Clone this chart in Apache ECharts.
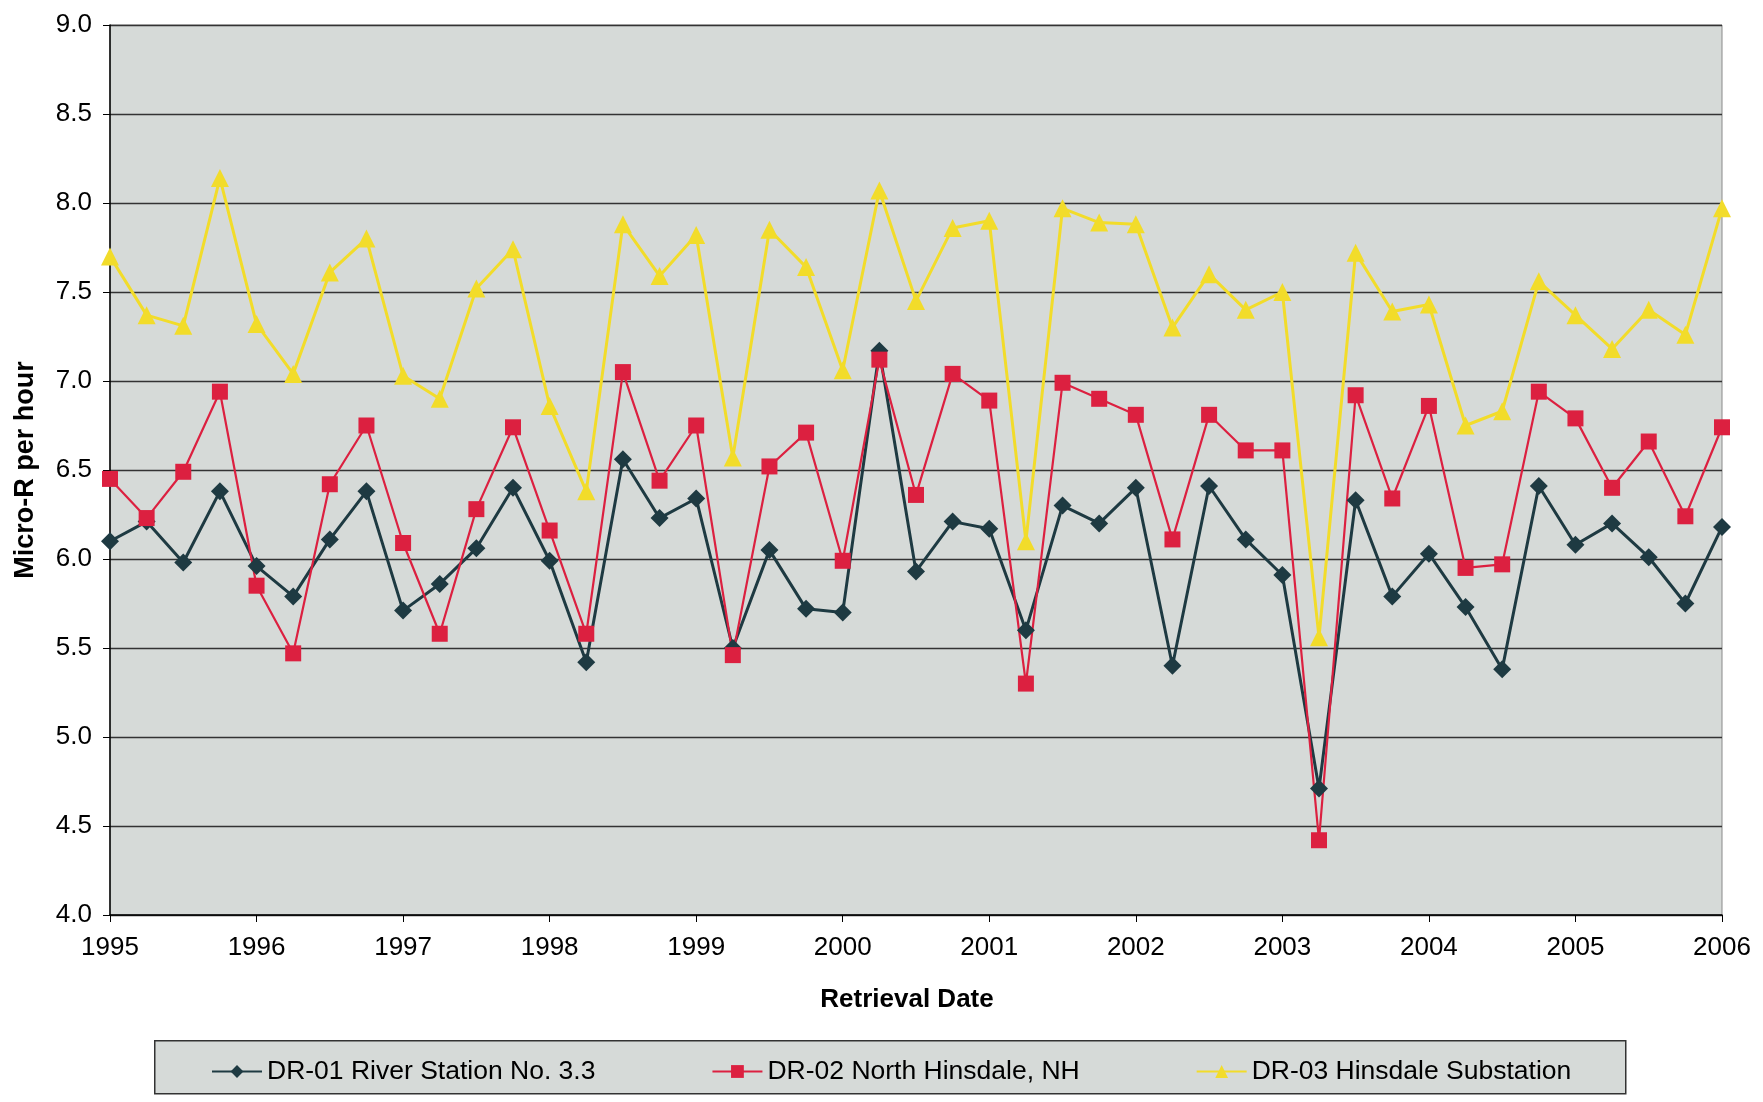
<!DOCTYPE html>
<html>
<head>
<meta charset="utf-8">
<script src="https://cdn.jsdelivr.net/npm/echarts@6/dist/echarts.min.js"></script>
<style>
html,body{margin:0;padding:0;background:#fff;}
#c{width:1763px;height:1102px;}
</style>
</head>
<body>
<div id="c"></div>
<script>
const categories = [
 '1995 Q1','1995 Q2','1995 Q3','1995 Q4',
 '1996 Q1','1996 Q2','1996 Q3','1996 Q4',
 '1997 Q1','1997 Q2','1997 Q3','1997 Q4',
 '1998 Q1','1998 Q2','1998 Q3','1998 Q4',
 '1999 Q1','1999 Q2','1999 Q3','1999 Q4',
 '2000 Q1','2000 Q2','2000 Q3','2000 Q4',
 '2001 Q1','2001 Q2','2001 Q3','2001 Q4',
 '2002 Q1','2002 Q2','2002 Q3','2002 Q4',
 '2003 Q1','2003 Q2','2003 Q3','2003 Q4',
 '2004 Q1','2004 Q2','2004 Q3','2004 Q4',
 '2005 Q1','2005 Q2','2005 Q3','2005 Q4',
 '2006 Q1'
];
const dr01 = [6.10,6.21,5.98,6.38,5.96,5.79,6.11,6.38,5.71,5.86,
              6.06,6.40,5.99,5.42,6.56,6.23,6.34,5.50,6.05,5.72,
              5.70,7.17,5.93,6.21,6.17,5.60,6.30,6.20,6.40,5.40,
              6.41,6.11,5.91,4.71,6.33,5.79,6.03,5.73,5.38,6.41,
              6.08,6.20,6.01,5.75,6.18];
const dr02 = [6.45,6.23,6.49,6.94,5.85,5.47,6.42,6.75,6.09,5.58,
              6.28,6.74,6.16,5.58,7.05,6.44,6.75,5.46,6.52,6.71,
              5.99,7.12,6.36,7.04,6.89,5.30,6.99,6.90,6.81,6.11,
              6.81,6.61,6.61,4.42,6.92,6.34,6.86,5.95,5.97,6.94,
              6.79,6.40,6.66,6.24,6.74];
const dr03 = [7.70,7.37,7.31,8.14,7.32,7.04,7.61,7.80,7.03,6.90,
              7.52,7.74,6.86,6.38,7.88,7.59,7.82,6.57,7.85,7.64,
              7.06,8.07,7.45,7.86,7.90,6.10,7.97,7.89,7.88,7.30,
              7.60,7.40,7.50,5.56,7.72,7.39,7.43,6.75,6.83,7.56,
              7.37,7.18,7.40,7.26,7.97];
const seriesNames = ['DR-01 River Station No. 3.3','DR-02 North Hinsdale, NH','DR-03 Hinsdale Substation'];

const FONT = '"Liberation Sans", Arial, sans-serif';
const chart = echarts.init(document.getElementById('c'));
chart.setOption({
  animation: false,
  backgroundColor: '#ffffff',
  textStyle: {fontFamily: FONT, color: '#000'},
  grid: {left: 110, right: 41, top: 25, bottom: 187, show: true,
         backgroundColor: '#d6dad8', borderColor: '#8a8a8a', borderWidth: 1},
  graphic: [{
    type: 'rect', left: 154, top: 1040, z: 0,
    shape: {width: 1471, height: 53},
    style: {fill: '#d6dad8', stroke: '#333', lineWidth: 1.5}
  }],
  legend: {
    left: 211, top: 1058, itemGap: 116, itemWidth: 50, itemHeight: 16,
    padding: 0, z: 5,
    textStyle: {fontFamily: FONT, fontSize: 26.5, color: '#000'},
    data: seriesNames
  },
  xAxis: {
    type: 'category', data: categories, boundaryGap: false,
    name: 'Retrieval Date', nameLocation: 'middle', nameGap: 72,
    nameTextStyle: {fontFamily: FONT, fontSize: 26, fontWeight: 'bold', color: '#000',
                    padding: [0, 18, 0, 0]},
    axisLine: {lineStyle: {color: '#000', width: 1.5}},
    axisTick: {interval: 3, length: 7, lineStyle: {color: '#000'}},
    axisLabel: {interval: 3, margin: 20, fontFamily: FONT, fontSize: 26, color: '#000',
                formatter: v => v.slice(0, 4)},
    splitLine: {show: false}
  },
  yAxis: {
    type: 'value', min: 4, max: 9, interval: 0.5,
    name: 'Micro-R per hour', nameLocation: 'middle', nameGap: 71, nameRotate: 90,
    nameTextStyle: {fontFamily: FONT, fontSize: 27, fontWeight: 'bold', color: '#000'},
    axisLine: {show: true, lineStyle: {color: '#000', width: 1.5}},
    axisTick: {show: true, length: 7, lineStyle: {color: '#000'}},
    axisLabel: {margin: 18, fontFamily: FONT, fontSize: 26, color: '#000',
                formatter: v => v.toFixed(1)},
    splitLine: {lineStyle: {color: '#333333', width: 1.3}}
  },
  series: [
    {name: seriesNames[0], type: 'line', data: dr01, symbol: 'diamond', symbolSize: 18,
     lineStyle: {color: '#1e3a42', width: 3}, itemStyle: {color: '#1e3a42'}},
    {name: seriesNames[1], type: 'line', data: dr02, symbol: 'rect', symbolSize: 16,
     lineStyle: {color: '#dc2040', width: 2.2}, itemStyle: {color: '#dc2040'}},
    {name: seriesNames[2], type: 'line', data: dr03, symbol: 'triangle', symbolSize: 18,
     lineStyle: {color: '#f2dc2a', width: 3}, itemStyle: {color: '#f2dc2a'}}
  ]
});
</script>
</body>
</html>
